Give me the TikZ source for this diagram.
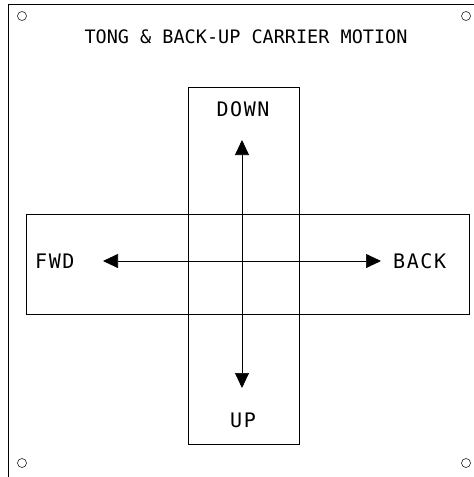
\documentclass[tikz,border=0pt]{standalone}
\usepackage{fontspec}
\usetikzlibrary{arrows.meta}
\newfontfamily\titlefont{DejaVu Sans Mono}
\newfontfamily\labelfont[LetterSpace=8]{DejaVu Sans Mono}
\tikzset{>={Triangle[length=15pt,width=14pt]},every node/.style={font=\labelfont\fontsize{20}{20}\selectfont,inner sep=0pt},
panel/.style={line width=.9pt},edge/.style={line width=.7pt},hole/.style={line width=.5pt},motion/.style={line width=.7pt,<->}}

\begin{document}
\begin{tikzpicture}[x=1pt,y=-1pt]
\useasboundingbox (0,0) rectangle (474,477);
\draw[panel] (8,477)--(8,4)--(474,4);
\foreach \p in {(22,16),(466,16),(22,463),(466,463)} \draw[hole] \p circle (4.5);
\node[font=\titlefont\fontsize{18.5}{18.5}\selectfont] (title) at (246,37) {TONG \& BACK-UP CARRIER MOTION};
\draw[edge] (188,87) rectangle (299,444);\draw[edge] (26,214) rectangle (469,314);
\node (down) at (243,109) {DOWN};\node (up) at (243,420) {UP};
\node[anchor=west] (fwd) at (35,261) {FWD};\node[anchor=west] (back) at (393,261) {BACK};
\coordinate (top) at (242,140);\coordinate (bot) at (242,388);
\coordinate (left) at (103,261);\coordinate (right) at (381,261);
\draw[motion] (top)--(bot);\draw[motion] (left)--(right);
\end{tikzpicture}
\end{document}
